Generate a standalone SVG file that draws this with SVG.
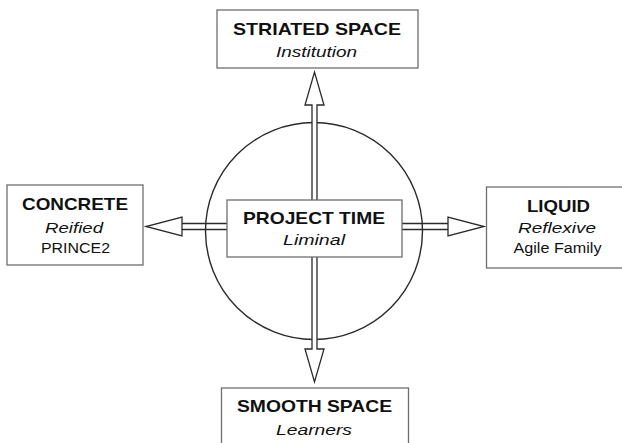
<svg xmlns="http://www.w3.org/2000/svg" width="622" height="443" viewBox="0 0 622 443">
  <style>
    .box { fill: #ffffff; stroke: #6e6e6e; stroke-width: 1.3; }
    .ring { fill: none; stroke: #2a2a2a; stroke-width: 1.4; }
    .arrow { fill: #ffffff; stroke: #2a2a2a; stroke-width: 1.3; stroke-linejoin: miter; }
    .shaft { fill: none; stroke: #2a2a2a; stroke-width: 1.3; }
    .title { font-family: "Liberation Sans", Arial, sans-serif; font-weight: bold; font-size: 17px; fill: #111; text-anchor: start; }
    .sub { font-family: "Liberation Sans", Arial, sans-serif; font-style: italic; font-size: 15px; fill: #111; }
    .plain { font-family: "Liberation Sans", Arial, sans-serif; font-size: 14px; fill: #111; }
  </style>

  <rect width="622" height="443" fill="#ffffff"/>

  <!-- central circle -->
  <circle class="ring" cx="314" cy="231" r="108.5"/>

  <g id="connectors">
    <!-- horizontal shaft (circle outline shows through) -->
    <line class="shaft" x1="181" y1="223.5" x2="449" y2="223.5"/>
    <line class="shaft" x1="181" y1="229.5" x2="449" y2="229.5"/>
    <!-- left arrowhead -->
    <polygon class="arrow" points="182,223.5 182,217 146,226.5 182,236 182,229.5"/>
    <!-- right arrowhead -->
    <polygon class="arrow" points="448,223.5 448,217 484,226.5 448,236 448,229.5"/>
    <!-- vertical arrow, white shaft covering the circle -->
    <polygon class="arrow" points="312,105 305,105 314.5,72 324,105 317,105 317,349 324,349 314.5,382 305,349 312,349 312,105"/>
  </g>

  <g id="striated-space">
    <rect class="box" x="217" y="10" width="201" height="58"/>
    <text class="title" x="233" y="35" textLength="168" lengthAdjust="spacingAndGlyphs">STRIATED SPACE</text>
    <text class="sub" x="276" y="57" textLength="81" lengthAdjust="spacingAndGlyphs">Institution</text>
  </g>

  <g id="concrete">
    <rect class="box" x="7" y="185" width="136" height="80"/>
    <text class="title" x="22" y="210" textLength="106" lengthAdjust="spacingAndGlyphs">CONCRETE</text>
    <text class="sub" x="45" y="233" textLength="58" lengthAdjust="spacingAndGlyphs">Reified</text>
    <text class="plain" x="41" y="253" textLength="69" lengthAdjust="spacingAndGlyphs">PRINCE2</text>
  </g>

  <g id="project-time">
    <rect class="box" x="227" y="200" width="175" height="57"/>
    <text class="title" x="243" y="224" textLength="142" lengthAdjust="spacingAndGlyphs">PROJECT TIME</text>
    <text class="sub" x="283" y="245" textLength="62" lengthAdjust="spacingAndGlyphs">Liminal</text>
  </g>

  <g id="liquid">
    <rect class="box" x="486.5" y="187" width="145" height="81"/>
    <text class="title" x="527" y="212" textLength="63" lengthAdjust="spacingAndGlyphs">LIQUID</text>
    <text class="sub" x="518" y="233" textLength="78" lengthAdjust="spacingAndGlyphs">Reflexive</text>
    <text class="plain" x="513.5" y="253" textLength="88" lengthAdjust="spacingAndGlyphs">Agile Family</text>
  </g>

  <g id="smooth-space">
    <rect class="box" x="221.5" y="388" width="187" height="70"/>
    <text class="title" x="237" y="412" textLength="155" lengthAdjust="spacingAndGlyphs">SMOOTH SPACE</text>
    <text class="sub" x="276" y="435" textLength="76" lengthAdjust="spacingAndGlyphs">Learners</text>
  </g>
</svg>
